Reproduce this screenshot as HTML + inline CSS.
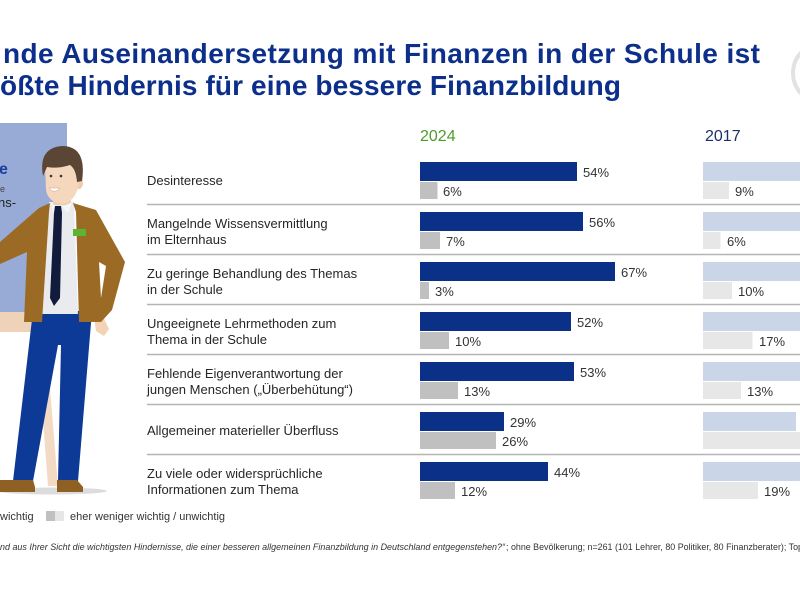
<!DOCTYPE html>
<html>
<head>
<meta charset="utf-8">
<style>
  html, body { margin:0; padding:0; background:#ffffff; }
  body { width:800px; height:600px; overflow:hidden; position:relative; }
  svg { position:absolute; left:0; top:0; }
  text { font-family:"Liberation Sans", Arial, sans-serif; }
</style>
</head>
<body>
<svg width="800" height="600" viewBox="0 0 800 600" xmlns="http://www.w3.org/2000/svg">
  <!-- top-right circle fragment -->
  <circle cx="823" cy="73" r="30" fill="none" stroke="#e2e2e2" stroke-width="4"/>

  <!-- Title -->
  <text x="3" y="63" font-size="28" font-weight="bold" fill="#0b2f8a" textLength="757" lengthAdjust="spacing">nde Auseinandersetzung mit Finanzen in der Schule ist</text>
  <text x="0" y="95" font-size="28" font-weight="bold" fill="#0b2f8a" textLength="621" lengthAdjust="spacing">ößte Hindernis für eine bessere Finanzbildung</text>

  <!-- Year headers -->
  <text x="420" y="141" font-size="16" fill="#4e9a2c">2024</text>
  <text x="705" y="141" font-size="16" fill="#1c2f6b">2017</text>

  <!-- Illustration: panel -->
  <rect x="0" y="123" width="67" height="194" fill="#98aad6"/>
  <rect x="0" y="312" width="32" height="20" fill="#eed3b9"/>
  <polygon points="36,328 45,328 58,486 48,486" fill="#f2dac5"/>
  <text x="-1" y="174" font-size="16" font-weight="bold" fill="#1b3fa0">e</text>
  <text x="0" y="192" font-size="9" fill="#444">e</text>
  <text x="-2" y="207" font-size="13" fill="#222">ns-</text>

  <!-- shadow -->
  <ellipse cx="52" cy="491" rx="55" ry="3.5" fill="#dcdcdc"/>
  <!-- pants -->
  <path d="M33,311 L92,311 L78,481 L58,481 L61,345 L58,345 L33,481 L13,481 Z" fill="#0c3a96"/>
  <!-- shoes -->
  <path d="M0,480 L33,480 L35,487 L35,492 L0,492 Z" fill="#8e6023"/>
  <path d="M57,480 L77,480 L83,487 L83,492 L57,492 Z" fill="#8e6023"/>
  <!-- hand -->
  <polygon points="94,317 104,319 109,329 104,336 96,331" fill="#f3d2b5"/>
  <!-- shirt -->
  <polygon points="49,202 74,202 78,314 40,314" fill="#e9ebee"/>
  <!-- jacket left -->
  <polygon points="50,203 39,208 0,242 0,264 27,252 24,322 42,322 49,212" fill="#9b6b26"/>
  <!-- jacket right -->
  <polygon points="73,203 96,210 125,262 112,310 101,322 79,322 76,212" fill="#9b6b26"/>
  <polygon points="99,262 106,266 101,298" fill="#ffffff"/>
  <!-- badge -->
  <rect x="73" y="229" width="13" height="7" fill="#5cb531"/>
  <!-- neck -->
  <rect x="53" y="191" width="18" height="14" fill="#efccae"/>
  <!-- collar -->
  <polygon points="51,202 57,207 53,213" fill="#f5f6f8"/>
  <polygon points="72,202 62,207 68,213" fill="#f5f6f8"/>
  <!-- tie -->
  <polygon points="55,206 61,206 62,213 60,298 54,306 50,298 54,213" fill="#111b3b"/>
  <!-- ear -->
  <ellipse cx="79" cy="183" rx="4" ry="6" fill="#efccae"/>
  <!-- face -->
  <path d="M45,165 L79,165 L78,188 Q74,202 62,204 Q48,202 46,190 Z" fill="#f5d7bd"/>
  <!-- hair -->
  <path d="M43,176 Q38,148 62,146 Q87,146 82,181 L77,182 Q76,169 70,165 Q58,169 47,167 Z" fill="#5b4535"/>
  <!-- eyes & mouth -->
  <circle cx="51" cy="176" r="1.3" fill="#333"/>
  <circle cx="61" cy="176" r="1.3" fill="#333"/>
  <path d="M49,188 Q54,195 60,188 Z" fill="#ffffff" stroke="#c98" stroke-width="0.5"/>

  <!-- separators -->
  <g stroke="#b4b4b4" stroke-width="1.5">
    <line x1="147" y1="204.5" x2="800" y2="204.5"/>
    <line x1="147" y1="254.5" x2="800" y2="254.5"/>
    <line x1="147" y1="304.5" x2="800" y2="304.5"/>
    <line x1="147" y1="354.5" x2="800" y2="354.5"/>
    <line x1="147" y1="404.5" x2="800" y2="404.5"/>
    <line x1="147" y1="454.5" x2="800" y2="454.5"/>
  </g>

  <!-- Category labels -->
  <g font-size="13" fill="#262626">
    <text x="147" y="185">Desinteresse</text>
    <text x="147" y="228">Mangelnde Wissensvermittlung</text>
    <text x="147" y="244">im Elternhaus</text>
    <text x="147" y="278">Zu geringe Behandlung des Themas</text>
    <text x="147" y="294">in der Schule</text>
    <text x="147" y="328">Ungeeignete Lehrmethoden zum</text>
    <text x="147" y="344">Thema in der Schule</text>
    <text x="147" y="378">Fehlende Eigenverantwortung der</text>
    <text x="147" y="394">jungen Menschen („Überbehütung“)</text>
    <text x="147" y="435">Allgemeiner materieller Überfluss</text>
    <text x="147" y="478">Zu viele oder widersprüchliche</text>
    <text x="147" y="494">Informationen zum Thema</text>
  </g>

  <!-- 2024 bars -->
  <g fill="#0a3087">
    <rect x="420" y="162" width="157" height="19"/>
    <rect x="420" y="212" width="163" height="19"/>
    <rect x="420" y="262" width="195" height="19"/>
    <rect x="420" y="312" width="151" height="19"/>
    <rect x="420" y="362" width="154" height="19"/>
    <rect x="420" y="412" width="84" height="19"/>
    <rect x="420" y="462" width="128" height="19"/>
  </g>
  <g fill="#c0c0c0">
    <rect x="420" y="182" width="17.5" height="17"/>
    <rect x="420" y="232" width="20" height="17"/>
    <rect x="420" y="282" width="9" height="17"/>
    <rect x="420" y="332" width="29" height="17"/>
    <rect x="420" y="382" width="38" height="17"/>
    <rect x="420" y="432" width="76" height="17"/>
    <rect x="420" y="482" width="35" height="17"/>
  </g>

  <!-- 2017 bars -->
  <g fill="#cad6e8">
    <rect x="703" y="162" width="97" height="19"/>
    <rect x="703" y="212" width="97" height="19"/>
    <rect x="703" y="262" width="97" height="19"/>
    <rect x="703" y="312" width="97" height="19"/>
    <rect x="703" y="362" width="97" height="19"/>
    <rect x="703" y="412" width="93" height="19"/>
    <rect x="703" y="462" width="97" height="19"/>
  </g>
  <g fill="#e7e7e7">
    <rect x="703" y="182" width="26" height="17"/>
    <rect x="703" y="232" width="17.5" height="17"/>
    <rect x="703" y="282" width="29" height="17"/>
    <rect x="703" y="332" width="49.5" height="17"/>
    <rect x="703" y="382" width="38" height="17"/>
    <rect x="703" y="432" width="97" height="17"/>
    <rect x="703" y="482" width="55" height="17"/>
  </g>

  <!-- value labels -->
  <g font-size="13" fill="#333333">
    <text x="583" y="177">54%</text>
    <text x="443" y="196">6%</text>
    <text x="589" y="227">56%</text>
    <text x="446" y="246">7%</text>
    <text x="621" y="277">67%</text>
    <text x="435" y="296">3%</text>
    <text x="577" y="327">52%</text>
    <text x="455" y="346">10%</text>
    <text x="580" y="377">53%</text>
    <text x="464" y="396">13%</text>
    <text x="510" y="427">29%</text>
    <text x="502" y="446">26%</text>
    <text x="554" y="477">44%</text>
    <text x="461" y="496">12%</text>

    <text x="735" y="196">9%</text>
    <text x="727" y="246">6%</text>
    <text x="738" y="296">10%</text>
    <text x="759" y="346">17%</text>
    <text x="747" y="396">13%</text>
    <text x="764" y="496">19%</text>
  </g>

  <!-- legend -->
  <text x="0" y="520" font-size="11" fill="#333">wichtig</text>
  <rect x="46" y="511" width="9" height="10" fill="#c0c0c0"/>
  <rect x="55" y="511" width="9" height="10" fill="#e6e6e6"/>
  <text x="70" y="520" font-size="11" fill="#333" textLength="155" lengthAdjust="spacingAndGlyphs">eher weniger wichtig / unwichtig</text>

  <!-- footnote -->
  <text x="0" y="550" font-size="9.5" font-style="italic" fill="#333" textLength="505" lengthAdjust="spacingAndGlyphs">nd aus Ihrer Sicht die wichtigsten Hindernisse, die einer besseren allgemeinen Finanzbildung in Deutschland entgegenstehen?“</text>
  <text x="506" y="550" font-size="9.5" fill="#333" textLength="297" lengthAdjust="spacingAndGlyphs">; ohne Bevölkerung; n=261 (101 Lehrer, 80 Politiker,  80 Finanzberater); Top</text>
</svg>
</body>
</html>
